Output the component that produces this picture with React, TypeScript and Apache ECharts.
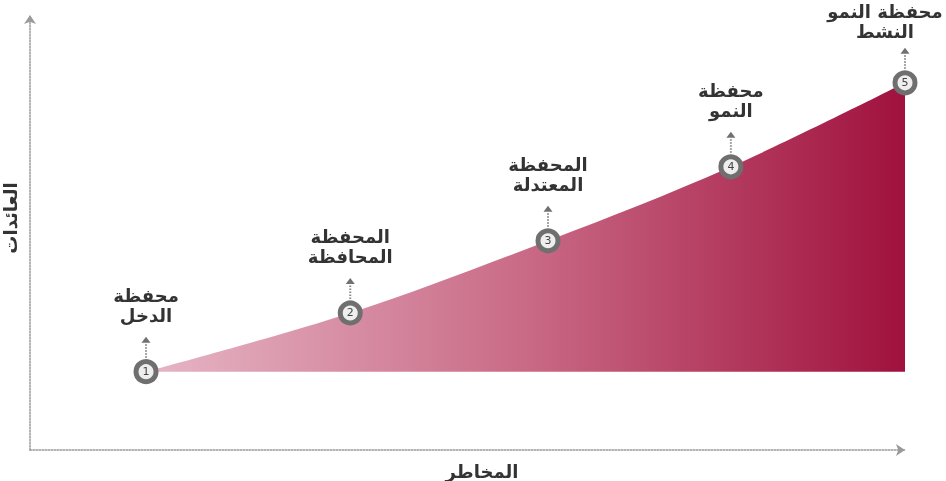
import React, { useEffect, useRef } from "react";
import * as echarts from "echarts";

const riskValues = [13.26, 36.6, 59.2, 80.1, 100];
const returnValues = [18.0, 31.5, 48.1, 65.1, 84.4];
const stepNumbers = ["1", "2", "3", "4", "5"];
const labelLine1 = ["محفظة", "المحفظة", "المحفظة", "محفظة", "محفظة النمو"];
const labelLine2 = ["الدخل", "المحافظة", "المعتدلة", "النمو", "النشط"];
const xAxisTitle = "المخاطر";
const yAxisTitle = "العائدات";

const FONT = "'DejaVu Sans', sans-serif";

export default function App() {
  const ref = useRef<HTMLDivElement>(null);
  useEffect(() => {
    if (!ref.current) return;
    const chart = echarts.init(ref.current, null, { renderer: "svg" });
    const lineData = riskValues.map((x, i) => [x, returnValues[i]]);
    const annData = riskValues.map((x, i) => [x, returnValues[i], i]);
    const axisLine = {
      show: true,
      symbol: ["none", "arrow"],
      symbolSize: [9, 9],
      lineStyle: { color: "#9a9a9a", width: 1.5, type: [1.5, 1.5] as any },
    };
    chart.setOption({
      animation: false,
      grid: { left: 30, right: 41, top: 15, bottom: 31 },
      xAxis: {
        type: "value",
        min: 0,
        max: 100,
        axisLine,
        axisTick: { show: false },
        axisLabel: { show: false },
        splitLine: { show: false },
      },
      yAxis: {
        type: "value",
        min: 0,
        max: 100,
        axisLine,
        axisTick: { show: false },
        axisLabel: { show: false },
        splitLine: { show: false },
      },
      graphic: [
        {
          type: "text",
          x: 482,
          y: 471,
          style: {
            text: xAxisTitle,
            fontFamily: FONT,
            fontWeight: "bold",
            fontSize: 18,
            fill: "#333",
            align: "center",
            verticalAlign: "middle",
          },
        },
        {
          type: "text",
          x: 10,
          y: 218,
          rotation: Math.PI / 2,
          style: {
            text: yAxisTitle,
            fontFamily: FONT,
            fontWeight: "bold",
            fontSize: 18,
            fill: "#333",
            align: "center",
            verticalAlign: "middle",
          },
        },
      ],
      series: [
        {
          type: "line",
          data: lineData,
          smooth: 0.35,
          showAllSymbol: true,
          symbol: "circle",
          symbolSize: 20,
          lineStyle: { width: 0, opacity: 0 },
          itemStyle: { color: "#eeeeee", borderColor: "#6f6f6f", borderWidth: 5 },
          label: {
            show: true,
            position: "inside",
            formatter: (p: any) => stepNumbers[p.dataIndex],
            fontFamily: FONT,
            fontSize: 11,
            color: "#444",
          },
          areaStyle: {
            origin: returnValues[0],
            opacity: 1,
            color: new echarts.graphic.LinearGradient(0, 0, 1, 0, [
              { offset: 0, color: "#e6b6c6" },
              { offset: 0.5, color: "#c96a86" },
              { offset: 1, color: "#a0113e" },
            ]),
          },
          z: 2,
        },
        {
          type: "custom",
          data: annData,
          z: 3,
          renderItem: (params: any, api: any) => {
            const pt = api.coord([api.value(0), api.value(1)]);
            const idx = api.value(2);
            const px = pt[0];
            const py = pt[1];
            const tx = Math.min(px, api.getWidth() - 61);
            const ty1 = Math.max(py - 76, 11);
            const textStyle = {
              fontFamily: FONT,
              fontWeight: "bold",
              fontSize: 18,
              fill: "#333",
              align: "center",
              verticalAlign: "middle",
            };
            return {
              type: "group",
              children: [
                {
                  type: "line",
                  shape: { x1: px, y1: py - 14, x2: px, y2: py - 29 },
                  style: { stroke: "#8a8a8a", lineWidth: 2, lineDash: [1.5, 1.5] },
                },
                {
                  type: "polygon",
                  shape: {
                    points: [
                      [px - 4.5, py - 29],
                      [px + 4.5, py - 29],
                      [px, py - 35],
                    ],
                  },
                  style: { fill: "#707070" },
                },
                {
                  type: "text",
                  x: tx,
                  y: ty1,
                  style: { ...textStyle, text: labelLine1[idx] },
                },
                {
                  type: "text",
                  x: tx,
                  y: ty1 + 20,
                  style: { ...textStyle, text: labelLine2[idx] },
                },
              ],
            };
          },
        },
      ],
    });
    return () => chart.dispose();
  }, []);
  return (
    <div
      ref={ref}
      style={{ position: "fixed", left: 0, top: 0, width: 946, height: 481 }}
    />
  );
}
